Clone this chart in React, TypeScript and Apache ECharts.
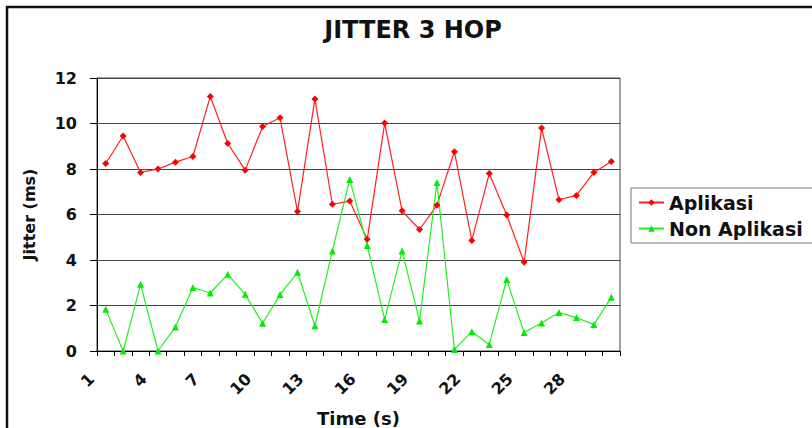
import React, { useEffect, useRef } from "react";
import * as echarts from "echarts";

const categories = Array.from({ length: 30 }, (_, i) => String(i + 1));
const aplikasi = [8.24, 9.45, 7.85, 8.0, 8.3, 8.55, 11.19, 9.12, 7.95, 9.87, 10.25, 6.13, 11.08, 6.45, 6.59, 4.91, 10.02, 6.16, 5.34, 6.41, 8.76, 4.86, 7.8, 5.98, 3.9, 9.8, 6.65, 6.84, 7.85, 8.33];
const nonAplikasi = [1.83, 0.0, 2.93, 0.0, 1.06, 2.79, 2.55, 3.37, 2.49, 1.22, 2.48, 3.46, 1.11, 4.4, 7.54, 4.64, 1.39, 4.4, 1.32, 7.41, 0.07, 0.85, 0.29, 3.14, 0.81, 1.23, 1.69, 1.47, 1.16, 2.36];

const FONT = "'DejaVu Sans', 'Liberation Sans', Arial, sans-serif";

export default function App() {
  const ref = useRef<HTMLDivElement>(null);
  useEffect(() => {
    if (!ref.current) return;
    const chart = echarts.init(ref.current, undefined, { renderer: "svg" });
    chart.setOption({
      animation: false,
      backgroundColor: "#ffffff",
      textStyle: { fontFamily: FONT },
      title: {
        text: "JITTER 3 HOP",
        left: 408,
        textAlign: "center",
        top: 13,
        textStyle: { fontSize: 24, fontWeight: "bold", color: "#111", fontFamily: FONT },
      },
      graphic: [
        {
          type: "rect",
          shape: { x: 7, y: 7, width: 830, height: 440 },
          style: { fill: "none", stroke: "#111", lineWidth: 2.5 },
          silent: true,
        },
      ],
      legend: {
        orient: "vertical",
        left: 631,
        top: 188,
        itemWidth: 25,
        itemHeight: 8,
        itemGap: 7,
        padding: [5, 12, 5, 7],
        borderColor: "#777",
        borderWidth: 1,
        textStyle: { fontSize: 19, fontWeight: "bold", color: "#111", fontFamily: FONT },
        data: ["Aplikasi", "Non Aplikasi"],
      },
      grid: {
        left: 97,
        right: 192,
        top: 78,
        bottom: 77,
        show: true,
        borderColor: "#444",
        borderWidth: 1,
        outerBoundsMode: "none",
        containLabel: false,
      },
      xAxis: {
        type: "category",
        data: categories,
        boundaryGap: true,
        name: "Time (s)",
        nameLocation: "middle",
        nameGap: 58,
        nameTextStyle: { fontSize: 18, fontWeight: "bold", color: "#111", fontFamily: FONT },
        axisLine: { lineStyle: { color: "#000", width: 1 } },
        axisTick: { show: true, length: 5, interval: 0, lineStyle: { color: "#000" } },
        axisLabel: {
          interval: 2,
          rotate: 45,
          fontSize: 16,
          fontWeight: "bold",
          color: "#111",
          fontFamily: FONT,
          margin: 11,
          padding: [0, 20, 0, 0],
        },
      },
      yAxis: {
        type: "value",
        min: 0,
        max: 12,
        interval: 2,
        name: "Jitter (ms)",
        nameLocation: "middle",
        nameGap: 60,
        nameRotate: 90,
        nameTextStyle: { fontSize: 16, fontWeight: "bold", color: "#111", fontFamily: FONT },
        axisLine: { show: true, lineStyle: { color: "#000", width: 1 } },
        axisTick: { show: true, length: 7, lineStyle: { color: "#000" } },
        axisLabel: { fontSize: 16, fontWeight: "bold", color: "#111", fontFamily: FONT, margin: 20 },
        splitLine: { show: true, lineStyle: { color: "#444", width: 1 } },
      },
      series: [
        {
          name: "Aplikasi",
          type: "line",
          data: aplikasi,
          symbol: "diamond",
          symbolSize: 7,
          color: "#ff0000",
          lineStyle: { color: "#ff2020", width: 1.2 },
          itemStyle: { color: "#ff0000" },
        },
        {
          name: "Non Aplikasi",
          type: "line",
          data: nonAplikasi,
          symbol: "triangle",
          symbolSize: 7,
          color: "#00ff00",
          lineStyle: { color: "#20f020", width: 1.2 },
          itemStyle: { color: "#00ee00" },
        },
      ],
    });
    return () => chart.dispose();
  }, []);
  return (
    <div
      ref={ref}
      style={{ position: "fixed", left: 0, top: 0, width: 812, height: 428 }}
    />
  );
}
